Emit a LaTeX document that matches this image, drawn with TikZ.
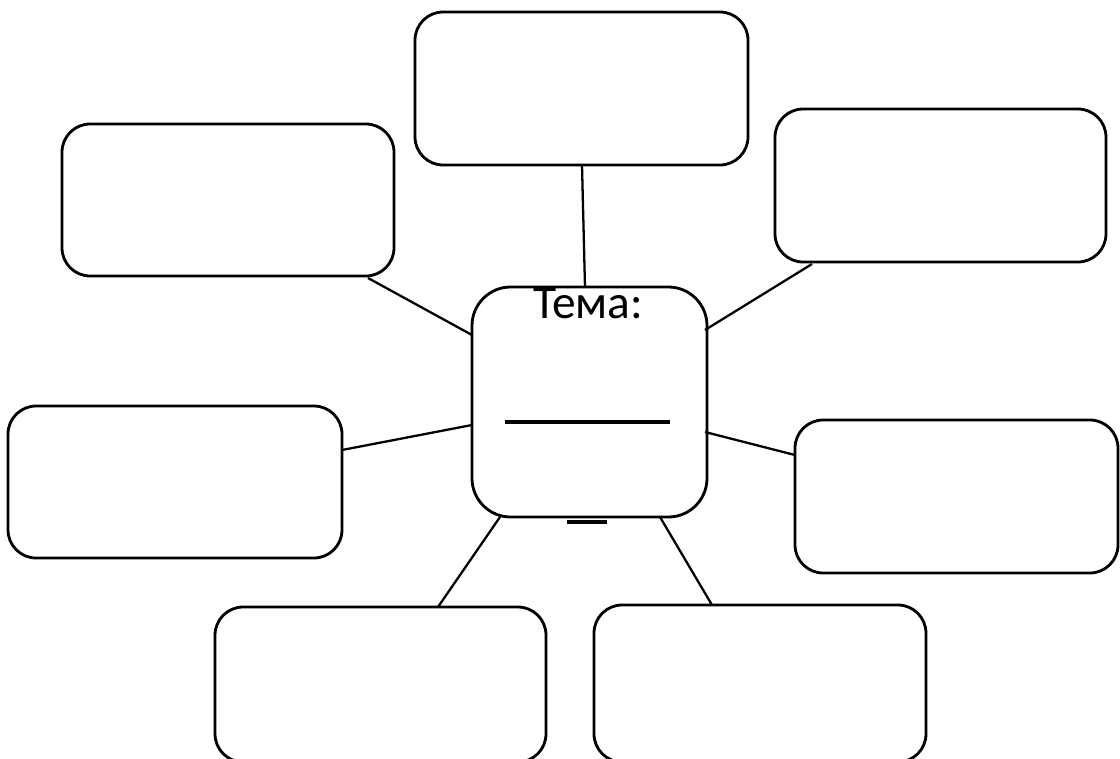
\documentclass[tikz,border=0pt]{standalone}
\usepackage{fontspec}
\setmainfont{Carlito}
\begin{document}
\begin{tikzpicture}[x=0.02cm,y=-0.02cm,
  box/.style={draw,line width=1.6pt,rounded corners=16pt},
  conn/.style={line width=1.3pt}]
\useasboundingbox (0,0) rectangle (1120,758);
\begin{scope}
\clip (0,0) rectangle (1120,758);
% outer boxes
\draw[box] (415,12) rectangle (748,165);
\draw[box] (62,124) rectangle (394,276);
\draw[box] (775,109) rectangle (1106,262);
\draw[box] (8,406) rectangle (342,558);
\draw[box] (795,420) rectangle (1118,573);
\draw[box] (215,607) rectangle (546,762);
\draw[box] (594,605) rectangle (926,762);
% center box
\draw[box,rounded corners=22pt] (472,287) rectangle (707,517);
\end{scope}
\coordinate (ct) at (585,287);
\coordinate (ctl) at (472,335);
\coordinate (ctr) at (705,330);
\coordinate (cl) at (472,425);
\coordinate (cr) at (705,432);
\coordinate (cbl) at (500,517);
\coordinate (cbr) at (660,517);
\coordinate (t) at (582,165);
\coordinate (tl) at (368,278);
\coordinate (tr) at (812,264);
\coordinate (l) at (342,450);
\coordinate (r) at (795,455);
\coordinate (bl) at (438,607);
\coordinate (br) at (712,605);
\draw[conn] (t) -- (ct);
\draw[conn] (tl) -- (ctl);
\draw[conn] (tr) -- (ctr);
\draw[conn] (l) -- (cl);
\draw[conn] (r) -- (cr);
\draw[conn] (bl) -- (cbl);
\draw[conn] (br) -- (cbr);
\node[anchor=base,inner sep=0pt,font=\fontsize{27}{32}\selectfont] (tema) at (588,318) {Тема:};
\coordinate (u1) at (505,422);
\coordinate (u2) at (670,422);
\draw[line width=2.8pt] (u1) -- (u2);
\coordinate (d1) at (567,522);
\coordinate (d2) at (607,522);
\draw[line width=2.4pt] (d1) -- (d2);
\end{tikzpicture}
\end{document}
